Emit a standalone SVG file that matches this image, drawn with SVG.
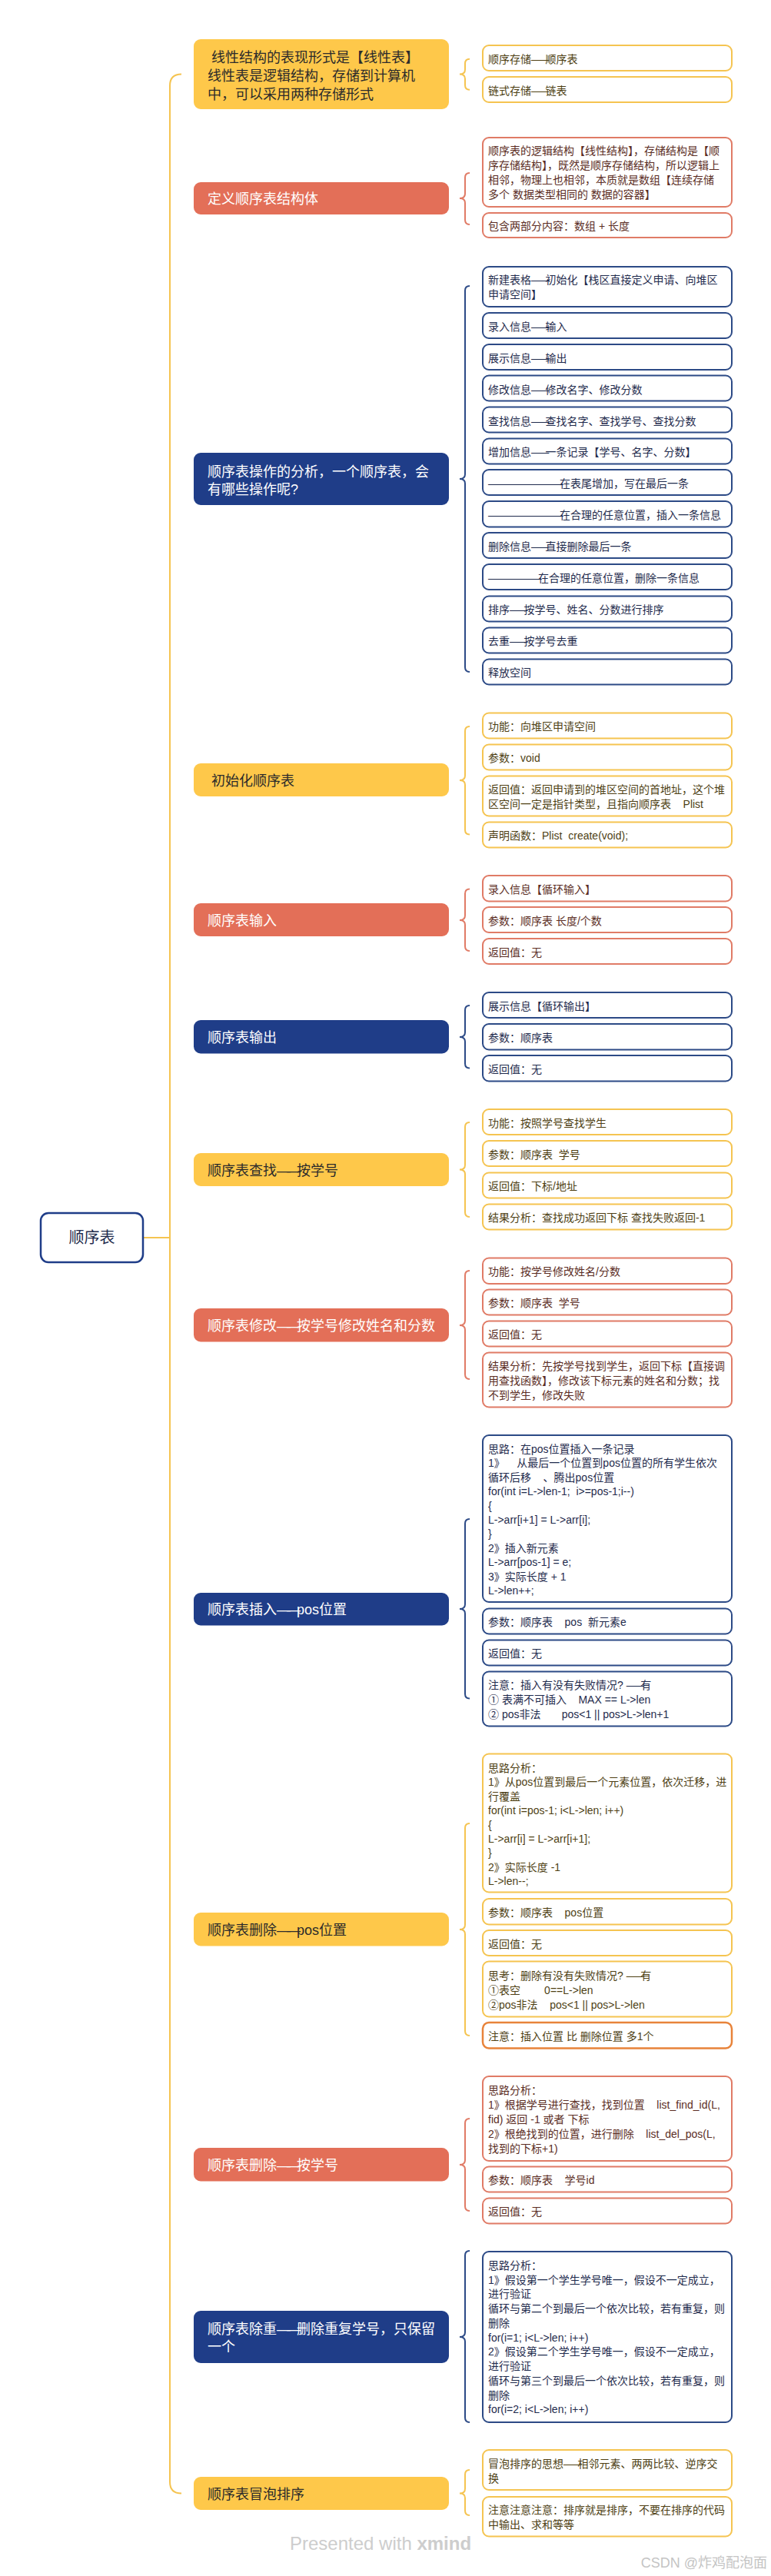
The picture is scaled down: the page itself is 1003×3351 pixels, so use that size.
<svg xmlns="http://www.w3.org/2000/svg" width="1003" height="3351" viewBox="0 0 1003 3351" xml:space="preserve">
<style>
text{font-family:"Liberation Sans","Noto Sans CJK SC",sans-serif;white-space:pre}
.b{font-size:18px}
.l{font-size:14px}
.by{fill:#FEC84A}.bc{fill:#E36F58}.bn{fill:#1F3D88}
.wy{fill:#fff;stroke:#F5C451;stroke-width:2}
.wc{fill:#fff;stroke:#E07B66;stroke-width:2}
.wn{fill:#fff;stroke:#2C4A86;stroke-width:2}
.wo{fill:#fff;stroke:#E8833A;stroke-width:2.5}
.ky{fill:#2b2b2b}.kw{fill:#fff}
.ty{fill:#4e3f14}.tc{fill:#5b2d24}.tn{fill:#1f2b4d}
.d{letter-spacing:-4.7px}
.D{letter-spacing:-5px}
.cy{fill:none;stroke:#F5C451;stroke-width:2}
.cc{fill:none;stroke:#E07B66;stroke-width:2}
.cn{fill:none;stroke:#2C4A86;stroke-width:2}
</style>
<rect width="1003" height="3351" fill="#fff"/>
<g id="connectors">
<path class="cy" d="M236 96.5Q221 96.5 221 111.5L221 3228.5Q221 3243.5 236 3243.5"/>
<path class="cy" d="M186 1610L221 1610"/>
<path class="cy" d="M611 76.7Q605 76.7 605 82.7L605 90.5Q605 96.5 598 96.5Q605 96.5 605 102.5L605 110.7Q605 116.7 611 116.7"/>
<path class="cc" d="M611 225Q605 225 605 231L605 252Q605 258 598 258Q605 258 605 264L605 286Q605 292 611 292"/>
<path class="cn" d="M611 372Q605 372 605 378L605 617Q605 623 598 623Q605 623 605 629L605 868Q605 874 611 874"/>
<path class="cy" d="M611 945Q605 945 605 951L605 1009Q605 1015 598 1015Q605 1015 605 1021L605 1079.5Q605 1085.5 611 1085.5"/>
<path class="cc" d="M611 1156.5Q605 1156.5 605 1162.5L605 1191Q605 1197 598 1197Q605 1197 605 1203L605 1231Q605 1237 611 1237"/>
<path class="cn" d="M611 1308Q605 1308 605 1314L605 1343Q605 1349 598 1349Q605 1349 605 1355L605 1383.5Q605 1389.5 611 1389.5"/>
<path class="cy" d="M611 1460Q605 1460 605 1466L605 1515.5Q605 1521.5 598 1521.5Q605 1521.5 605 1527.5L605 1577Q605 1583 611 1583"/>
<path class="cc" d="M611 1653Q605 1653 605 1659L605 1718Q605 1724 598 1724Q605 1724 605 1730L605 1788Q605 1794 611 1794"/>
<path class="cn" d="M611 1976Q605 1976 605 1982L605 2087Q605 2093 598 2093Q605 2093 605 2099L605 2203.5Q605 2209.5 611 2209.5"/>
<path class="cy" d="M611 2372Q605 2372 605 2378L605 2504Q605 2510 598 2510Q605 2510 605 2516L605 2642Q605 2648 611 2648"/>
<path class="cc" d="M611 2756Q605 2756 605 2762L605 2810Q605 2816 598 2816Q605 2816 605 2822L605 2870Q605 2876 611 2876"/>
<path class="cn" d="M611 2928Q605 2928 605 2934L605 3034Q605 3040 598 3040Q605 3040 605 3046L605 3145Q605 3151 611 3151"/>
<path class="cy" d="M611 3213Q605 3213 605 3219L605 3237.5Q605 3243.5 598 3243.5Q605 3243.5 605 3249.5L605 3266Q605 3272 611 3272"/>
</g>
<g id="root">
<rect x="53" y="1578" width="133" height="64" rx="10" fill="#fff" stroke="#1F3D88" stroke-width="2.5"/>
<text x="119.5" y="1617" font-size="20" fill="#1f2b4d" text-anchor="middle">顺序表</text>
</g>
<g id="b1"><rect class="by" x="252" y="51" width="332" height="91" rx="9"/>
<text class="b ky" x="270" y="80.5"> 线性结构的表现形式是【线性表】</text>
<text class="b ky" x="270" y="104.5">线性表是逻辑结构，存储到计算机</text>
<text class="b ky" x="270" y="128.5">中，可以采用两种存储形式</text></g>
<g id="l1a"><rect class="wy" x="628" y="59" width="324" height="33" rx="8"/><text class="l ty" x="635" y="81.7">顺序存储<tspan class="d">——</tspan>顺序表</text></g>
<g id="l1b"><rect class="wy" x="628" y="100" width="324" height="33" rx="8"/><text class="l ty" x="635" y="123.3">链式存储<tspan class="d">——</tspan>链表</text></g>
<g id="b2"><rect class="bc" x="252" y="237" width="332" height="42" rx="9"/>
<text class="b kw" x="270" y="265">定义顺序表结构体</text></g>
<g id="l2a"><rect class="wc" x="628" y="179" width="324" height="90" rx="8"/>
<text class="l tc" x="635" y="200.7">顺序表的逻辑结构【线性结构】，存储结构是【顺</text>
<text class="l tc" x="635" y="220">序存储结构】，既然是顺序存储结构，所以逻辑上</text>
<text class="l tc" x="635" y="239">相邻，物理上也相邻，本质就是数组【连续存储</text>
<text class="l tc" x="635" y="257.7">多个 数据类型相同的 数据的容器】</text></g>
<g id="l2b"><rect class="wc" x="628" y="277" width="324" height="32" rx="8"/><text class="l tc" x="635" y="299.3">包含两部分内容：数组 + 长度</text></g>
<g id="b3"><rect class="bn" x="252" y="589" width="332" height="68" rx="9"/>
<text class="b kw" x="270" y="619.7">顺序表操作的分析，一个顺序表，会</text>
<text class="b kw" x="270" y="642.7">有哪些操作呢?</text></g>
<g id="l3a"><rect class="wn" x="628" y="347" width="324" height="52" rx="8"/>
<text class="l tn" x="635" y="369.3">新建表格<tspan class="d">——</tspan>初始化【栈区直接定义申请、向堆区</text>
<text class="l tn" x="635" y="388.3">申请空间】</text></g>
<g id="l3b"><rect class="wn" x="628" y="407" width="324" height="33" rx="8"/><text class="l tn" x="635" y="430">录入信息<tspan class="d">——</tspan>输入</text></g>
<g id="l3c"><rect class="wn" x="628" y="448" width="324" height="33" rx="8"/><text class="l tn" x="635" y="470.7">展示信息<tspan class="d">——</tspan>输出</text></g>
<g id="l3d"><rect class="wn" x="628" y="488.5" width="324" height="33" rx="8"/><text class="l tn" x="635" y="511.7">修改信息<tspan class="d">——</tspan>修改名字、修改分数</text></g>
<g id="l3e"><rect class="wn" x="628" y="529.5" width="324" height="33" rx="8"/><text class="l tn" x="635" y="552.7">查找信息<tspan class="d">——</tspan>查找名字、查找学号、查找分数</text></g>
<g id="l3f"><rect class="wn" x="628" y="570.5" width="324" height="33" rx="8"/><text class="l tn" x="635" y="593.3">增加信息<tspan class="d">——</tspan>一条记录【学号、名字、分数】</text></g>
<g id="l3g"><rect class="wn" x="628" y="611" width="324" height="33" rx="8"/><text class="l tn" x="635" y="634.3"><tspan class="d">——————————</tspan>在表尾增加，写在最后一条</text></g>
<g id="l3h"><rect class="wn" x="628" y="652" width="324" height="33.5" rx="8"/><text class="l tn" x="635" y="675"><tspan class="d">——————————</tspan>在合理的任意位置，插入一条信息</text></g>
<g id="l3i"><rect class="wn" x="628" y="693" width="324" height="33" rx="8"/><text class="l tn" x="635" y="716">删除信息<tspan class="d">——</tspan>直接删除最后一条</text></g>
<g id="l3j"><rect class="wn" x="628" y="734" width="324" height="33" rx="8"/><text class="l tn" x="635" y="756.7"><tspan class="d">———————</tspan>在合理的任意位置，删除一条信息</text></g>
<g id="l3k"><rect class="wn" x="628" y="775.5" width="324" height="33" rx="8"/><text class="l tn" x="635" y="798.3">排序<tspan class="d">——</tspan>按学号、姓名、分数进行排序</text></g>
<g id="l3l"><rect class="wn" x="628" y="816.5" width="324" height="33" rx="8"/><text class="l tn" x="635" y="839">去重<tspan class="d">——</tspan>按学号去重</text></g>
<g id="l3m"><rect class="wn" x="628" y="857.5" width="324" height="33" rx="8"/><text class="l tn" x="635" y="880">释放空间</text></g>
<g id="b4"><rect class="by" x="252" y="993" width="332" height="43" rx="9"/>
<text class="b ky" x="275" y="1022">初始化顺序表</text></g>
<g id="l4a"><rect class="wy" x="628" y="927.5" width="324" height="33" rx="8"/><text class="l ty" x="635" y="950">功能：向堆区申请空间</text></g>
<g id="l4b"><rect class="wy" x="628" y="968.5" width="324" height="33" rx="8"/><text class="l ty" x="635" y="991">参数：void</text></g>
<g id="l4c"><rect class="wy" x="628" y="1009.5" width="324" height="52" rx="8"/>
<text class="l ty" x="635" y="1031.7">返回值：返回申请到的堆区空间的首地址，这个堆</text>
<text class="l ty" x="635" y="1050.7">区空间一定是指针类型，且指向顺序表    Plist</text></g>
<g id="l4d"><rect class="wy" x="628" y="1069.5" width="324" height="33" rx="8"/><text class="l ty" x="635" y="1091.7">声明函数：Plist  create(void);</text></g>
<g id="b5"><rect class="bc" x="252" y="1175" width="332" height="43" rx="9"/>
<text class="b kw" x="270" y="1204">顺序表输入</text></g>
<g id="l5a"><rect class="wc" x="628" y="1139" width="324" height="33.5" rx="8"/><text class="l tc" x="635" y="1161.7">录入信息【循环输入】</text></g>
<g id="l5b"><rect class="wc" x="628" y="1180" width="324" height="33" rx="8"/><text class="l tc" x="635" y="1203.3">参数：顺序表 长度/个数</text></g>
<g id="l5c"><rect class="wc" x="628" y="1221" width="324" height="33" rx="8"/><text class="l tc" x="635" y="1244.3">返回值：无</text></g>
<g id="b6"><rect class="bn" x="252" y="1327" width="332" height="43.5" rx="9"/>
<text class="b kw" x="270" y="1356">顺序表输出</text></g>
<g id="l6a"><rect class="wn" x="628" y="1291" width="324" height="33" rx="8"/><text class="l tn" x="635" y="1314">展示信息【循环输出】</text></g>
<g id="l6b"><rect class="wn" x="628" y="1332" width="324" height="33.5" rx="8"/><text class="l tn" x="635" y="1355">参数：顺序表</text></g>
<g id="l6c"><rect class="wn" x="628" y="1373" width="324" height="33.5" rx="8"/><text class="l tn" x="635" y="1395.7">返回值：无</text></g>
<g id="b7"><rect class="by" x="252" y="1500" width="332" height="43" rx="9"/>
<text class="b ky" x="270" y="1528.5">顺序表查找<tspan class="D">——</tspan>按学号</text></g>
<g id="l7a"><rect class="wy" x="628" y="1443" width="324" height="33" rx="8"/><text class="l ty" x="635" y="1466">功能：按照学号查找学生</text></g>
<g id="l7b"><rect class="wy" x="628" y="1484" width="324" height="33" rx="8"/><text class="l ty" x="635" y="1507.3">参数：顺序表  学号</text></g>
<g id="l7c"><rect class="wy" x="628" y="1525.5" width="324" height="33" rx="8"/><text class="l ty" x="635" y="1548.3">返回值：下标/地址</text></g>
<g id="l7d"><rect class="wy" x="628" y="1566.5" width="324" height="33" rx="8"/><text class="l ty" x="635" y="1589">结果分析：查找成功返回下标 查找失败返回-1</text></g>
<g id="b8"><rect class="bc" x="252" y="1702" width="332" height="43.5" rx="9"/>
<text class="b kw" x="270" y="1731">顺序表修改<tspan class="D">——</tspan>按学号修改姓名和分数</text></g>
<g id="l8a"><rect class="wc" x="628" y="1636.5" width="324" height="33.5" rx="8"/><text class="l tc" x="635" y="1659">功能：按学号修改姓名/分数</text></g>
<g id="l8b"><rect class="wc" x="628" y="1677.5" width="324" height="33" rx="8"/><text class="l tc" x="635" y="1700">参数：顺序表  学号</text></g>
<g id="l8c"><rect class="wc" x="628" y="1718.5" width="324" height="33" rx="8"/><text class="l tc" x="635" y="1741">返回值：无</text></g>
<g id="l8d"><rect class="wc" x="628" y="1759.5" width="324" height="71" rx="8"/>
<text class="l tc" x="635" y="1781.7">结果分析：先按学号找到学生，返回下标【直接调</text>
<text class="l tc" x="635" y="1801">用查找函数】，修改该下标元素的姓名和分数；找</text>
<text class="l tc" x="635" y="1820">不到学生，修改失败</text></g>
<g id="b9"><rect class="bn" x="252" y="2072" width="332" height="42.5" rx="9"/>
<text class="b kw" x="270" y="2100">顺序表插入<tspan class="D">——</tspan>pos位置</text></g>
<g id="l9a"><rect class="wn" x="628" y="1867" width="324" height="217" rx="8"/>
<text class="l tn" x="635" y="1890">思路：在pos位置插入一条记录</text>
<text class="l tn" x="635" y="1908.4">1》    从最后一个位置到pos位置的所有学生依次</text>
<text class="l tn" x="635" y="1926.8">循环后移    、腾出pos位置</text>
<text class="l tn" x="635" y="1945.2">for(int i=L-&gt;len-1;  i&gt;=pos-1;i--)</text>
<text class="l tn" x="635" y="1963.6">{</text>
<text class="l tn" x="635" y="1982">L-&gt;arr[i+1] = L-&gt;arr[i];</text>
<text class="l tn" x="635" y="2000.4">}</text>
<text class="l tn" x="635" y="2018.8">2》插入新元素</text>
<text class="l tn" x="635" y="2037.2">L-&gt;arr[pos-1] = e;</text>
<text class="l tn" x="635" y="2055.6">3》实际长度 + 1</text>
<text class="l tn" x="635" y="2074">L-&gt;len++;</text></g>
<g id="l9b"><rect class="wn" x="628" y="2092.5" width="324" height="33" rx="8"/><text class="l tn" x="635" y="2115">参数：顺序表    pos  新元素e</text></g>
<g id="l9c"><rect class="wn" x="628" y="2133.5" width="324" height="33" rx="8"/><text class="l tn" x="635" y="2156">返回值：无</text></g>
<g id="l9d"><rect class="wn" x="628" y="2174.5" width="324" height="71" rx="8"/>
<text class="l tn" x="635" y="2197.3">注意：插入有没有失败情况? <tspan class="d">——</tspan>有</text>
<text class="l tn" x="635" y="2216">① 表满不可插入    MAX == L-&gt;len</text>
<text class="l tn" x="635" y="2235">② pos非法       pos&lt;1 || pos&gt;L-&gt;len+1</text></g>
<g id="b10"><rect class="by" x="252" y="2488" width="332" height="43.5" rx="9"/>
<text class="b ky" x="270" y="2517">顺序表删除<tspan class="D">——</tspan>pos位置</text></g>
<g id="l10a"><rect class="wy" x="628" y="2281.5" width="324" height="180" rx="8"/>
<text class="l ty" x="635" y="2305">思路分析：</text>
<text class="l ty" x="635" y="2323.4">1》从pos位置到最后一个元素位置，依次迁移，进</text>
<text class="l ty" x="635" y="2341.8">行覆盖</text>
<text class="l ty" x="635" y="2360.2">for(int i=pos-1; i&lt;L-&gt;len; i++)</text>
<text class="l ty" x="635" y="2378.6">{</text>
<text class="l ty" x="635" y="2397">L-&gt;arr[i] = L-&gt;arr[i+1];</text>
<text class="l ty" x="635" y="2415.4">}</text>
<text class="l ty" x="635" y="2433.8">2》实际长度 -1</text>
<text class="l ty" x="635" y="2452.2">L-&gt;len--;</text></g>
<g id="l10b"><rect class="wy" x="628" y="2470" width="324" height="33.5" rx="8"/><text class="l ty" x="635" y="2493.3">参数：顺序表    pos位置</text></g>
<g id="l10c"><rect class="wy" x="628" y="2511" width="324" height="33" rx="8"/><text class="l ty" x="635" y="2534.3">返回值：无</text></g>
<g id="l10d"><rect class="wy" x="628" y="2551.5" width="324" height="72" rx="8"/>
<text class="l ty" x="635" y="2575">思考：删除有没有失败情况? <tspan class="d">——</tspan>有</text>
<text class="l ty" x="635" y="2594">①表空        0==L-&gt;len</text>
<text class="l ty" x="635" y="2613.3">②pos非法    pos&lt;1 || pos&gt;L-&gt;len</text></g>
<g id="l10e"><rect class="wo" x="628" y="2631" width="324" height="33.5" rx="8"/><text class="l ty" x="635" y="2654">注意：插入位置 比 删除位置 多1个</text></g>
<g id="b11"><rect class="bc" x="252" y="2794" width="332" height="43.5" rx="9"/>
<text class="b kw" x="270" y="2823">顺序表删除<tspan class="D">——</tspan>按学号</text></g>
<g id="l11a"><rect class="wc" x="628" y="2701" width="324" height="110" rx="8"/>
<text class="l tc" x="635" y="2724.3">思路分析：</text>
<text class="l tc" x="635" y="2743.2">1》根据学号进行查找，找到位置    list_find_id(L,</text>
<text class="l tc" x="635" y="2762.1">fid) 返回 -1 或者 下标</text>
<text class="l tc" x="635" y="2781">2》根绝找到的位置，进行删除    list_del_pos(L,</text>
<text class="l tc" x="635" y="2799.9">找到的下标+1)</text></g>
<g id="l11b"><rect class="wc" x="628" y="2818.5" width="324" height="33" rx="8"/><text class="l tc" x="635" y="2841">参数：顺序表    学号id</text></g>
<g id="l11c"><rect class="wc" x="628" y="2859.5" width="324" height="33" rx="8"/><text class="l tc" x="635" y="2882.3">返回值：无</text></g>
<g id="b12"><rect class="bn" x="252" y="3006" width="332" height="68" rx="9"/>
<text class="b kw" x="270" y="3036">顺序表除重<tspan class="D">——</tspan>删除重复学号，只保留</text>
<text class="b kw" x="270" y="3058.7">一个</text></g>
<g id="l12a"><rect class="wn" x="628" y="2929" width="324" height="222" rx="8"/>
<text class="l tn" x="635" y="2951.7">思路分析：</text>
<text class="l tn" x="635" y="2970.5">1》假设第一个学生学号唯一，假设不一定成立，</text>
<text class="l tn" x="635" y="2989.2">进行验证</text>
<text class="l tn" x="635" y="3008">循环与第二个到最后一个依次比较，若有重复，则</text>
<text class="l tn" x="635" y="3026.7">删除</text>
<text class="l tn" x="635" y="3045.5">for(i=1; i&lt;L-&gt;len; i++)</text>
<text class="l tn" x="635" y="3064.3">2》假设第二个学生学号唯一，假设不一定成立，</text>
<text class="l tn" x="635" y="3083">进行验证</text>
<text class="l tn" x="635" y="3101.8">循环与第三个到最后一个依次比较，若有重复，则</text>
<text class="l tn" x="635" y="3120.5">删除</text>
<text class="l tn" x="635" y="3139.3">for(i=2; i&lt;L-&gt;len; i++)</text></g>
<g id="b13"><rect class="by" x="252" y="3222" width="332" height="43" rx="9"/>
<text class="b ky" x="270" y="3250.5">顺序表冒泡排序</text></g>
<g id="l13a"><rect class="wy" x="628" y="3187" width="324" height="52" rx="8"/>
<text class="l ty" x="635" y="3210">冒泡排序的思想<tspan class="d">——</tspan>相邻元素、两两比较、逆序交</text>
<text class="l ty" x="635" y="3229">换</text></g>
<g id="l13b"><rect class="wy" x="628" y="3248" width="324" height="51.5" rx="8"/>
<text class="l ty" x="635" y="3270">注意注意注意：排序就是排序，不要在排序的代码</text>
<text class="l ty" x="635" y="3289.3">中输出、求和等等</text></g>
<g id="watermark">
<text x="377" y="3317" font-size="24" fill="#cdcdcd">Presented with <tspan font-weight="bold">xmind</tspan></text>
<text x="998" y="3340" font-size="18" fill="#c4c4c4" text-anchor="end">CSDN @炸鸡配泡面</text>
</g>
</svg>
